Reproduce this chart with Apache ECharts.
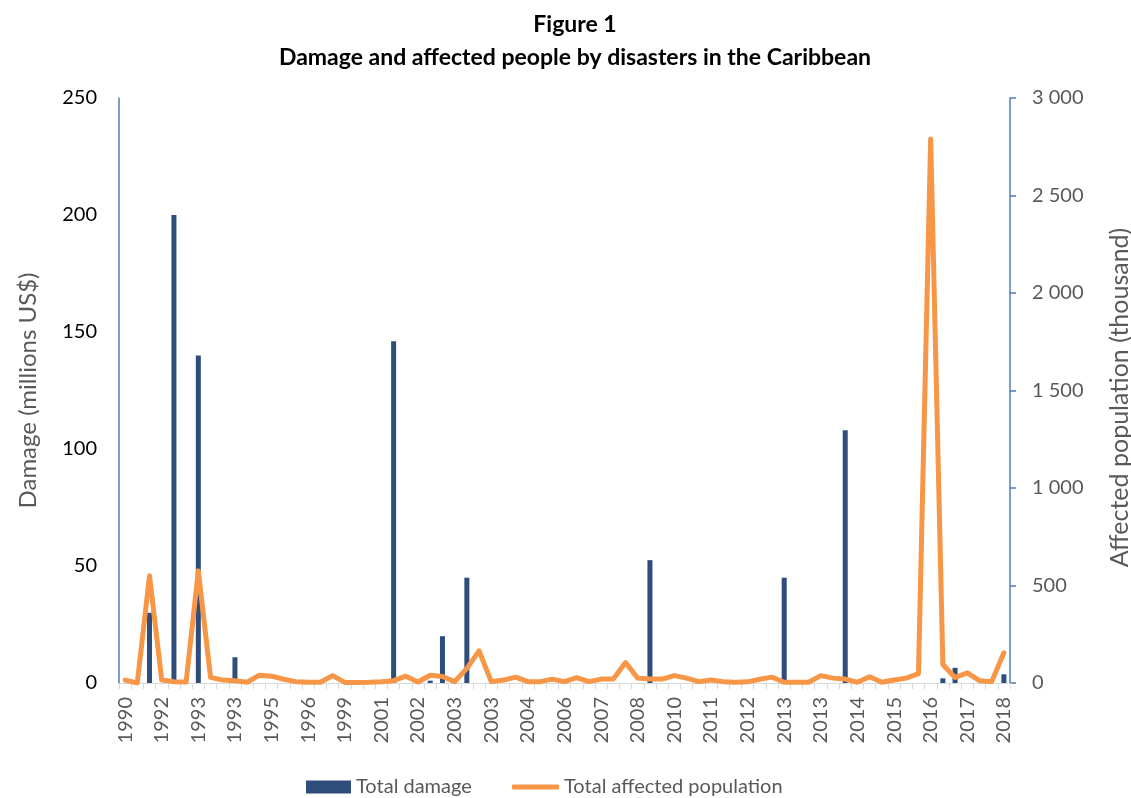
<!DOCTYPE html>
<html>
<head>
<meta charset="utf-8">
<script src="https://cdn.jsdelivr.net/npm/echarts@6/dist/echarts.min.js"></script>
<style>
html,body{margin:0;padding:0;background:#fff;}
#chart{width:1131px;height:798px;}
</style>
</head>
<body>
<div id="chart"></div>
<script>
var categories = [
  '1990','1990','1991','1992','1992','1993','1993','1993','1993','1993',
  '1994','1994','1995','1995','1996','1996','1997','1998','1999','2000',
  '2000','2001','2001','2002','2002','2002','2003','2003','2003','2003',
  '2003','2004','2004','2004','2005','2005','2006','2006','2007','2007',
  '2007','2008','2008','2008','2009','2010','2010','2011','2011','2011',
  '2012','2012','2012','2013','2013','2013','2013','2013','2014','2014',
  '2014','2014','2015','2015','2015','2016','2016','2016','2017','2017',
  '2017','2018','2018'
];
var totalDamage = [
  0,0,30,0,200,0,140,0,0,11,
  0,0,0,0,0,0,0,0,0,0,
  0,0,146,0,0,1,20,0,45,0,
  0,0,0,0,0,0,0,0,0,0,
  0,0,0,52.5,0,0,0,0,0,0,
  0,0,0,0,45,0,0,0,0,108,
  0,0,0,0,0,0,0,2,6.5,0,
  0,0,3.7
];
var totalAffected = [
  15,0,550,15,7,5,575,29,15,12,
  4,40,35,19,7,4,4,38,3,3,
  4,7,12,35,5,40,33,7,75,165,
  7,15,30,7,7,20,7,28,7,20,
  20,105,25,20,20,38,25,7,15,7,
  4,6,19,30,4,4,4,38,25,20,
  4,32,4,15,25,48,2790,95,28,52,
  12,7,155
];
var leftTicks = [0, 50, 100, 150, 200, 250];
var rightTicks = [0, 500, 1000, 1500, 2000, 2500, 3000];

var FONT = 'Lato, "Open Sans", sans-serif';
var chart = echarts.init(document.getElementById('chart'));
chart.setOption({
  animation: false,
  backgroundColor: '#ffffff',
  title: {
    text: 'Figure 1\nDamage and affected people by disasters in the Caribbean',
    left: 570,
    top: 3,
    textAlign: 'center',
    textStyle: {fontFamily: FONT, fontWeight: 'bold', fontSize: 23, color: '#000', lineHeight: 33}
  },
  legend: [
    {
      left: 301,
      top: 772,
      itemWidth: 45,
      itemHeight: 13,
      itemGap: 5,
      textStyle: {fontFamily: FONT, fontSize: 20, color: '#595959', lineHeight: 20},
      data: [{name: 'Total damage', icon: 'rect'}]
    },
    {
      left: 507,
      top: 772,
      itemWidth: 47,
      itemHeight: 5,
      itemGap: 5,
      textStyle: {fontFamily: FONT, fontSize: 20, color: '#595959', lineHeight: 20},
      data: [{name: 'Total affected population', icon: 'roundRect'}],
      itemStyle: {color: '#f79646'}
    }
  ],
  grid: {left: 119, right: 121, top: 98, bottom: 115, containLabel: false, outerBoundsMode: 'none'},
  xAxis: {
    type: 'category',
    data: categories,
    boundaryGap: true,
    axisLine: {show: true, lineStyle: {color: '#d9d9d9', width: 1}},
    axisTick: {show: true, interval: 0, length: 6, lineStyle: {color: '#d9d9d9', width: 1}},
    axisLabel: {interval: 2, rotate: 90, margin: 14, fontFamily: FONT, fontSize: 20, color: '#595959'}
  },
  yAxis: [
    {
      type: 'value', min: leftTicks[0], max: leftTicks[leftTicks.length - 1], interval: 50,
      position: 'left',
      name: 'Damage (millions US$)', nameLocation: 'middle', nameRotate: 90, nameGap: 79,
      nameTextStyle: {fontFamily: FONT, fontSize: 24, color: '#595959'},
      axisLine: {show: true, lineStyle: {color: '#4a7ebb', width: 1.5}},
      axisTick: {show: false},
      splitLine: {show: false},
      axisLabel: {margin: 22, fontFamily: FONT, fontSize: 20, color: '#000'}
    },
    {
      type: 'value', min: rightTicks[0], max: rightTicks[rightTicks.length - 1], interval: 500,
      position: 'right',
      name: 'Affected population (thousand)', nameLocation: 'middle', nameRotate: 90, nameGap: 97,
      nameTextStyle: {fontFamily: FONT, fontSize: 25, color: '#595959', padding: [0, 14, 0, 0]},
      axisLine: {show: true, lineStyle: {color: '#4a7ebb', width: 1.5}},
      axisTick: {show: true, inside: false, length: 6, lineStyle: {color: '#4a7ebb', width: 1.5}},
      splitLine: {show: false},
      axisLabel: {
        margin: 22, fontFamily: FONT, fontSize: 20, color: '#595959',
        formatter: function (v) { return String(v).replace(/\B(?=(\d{3})+(?!\d))/g, ' '); }
      }
    }
  ],
  series: [
    {
      name: 'Total damage',
      type: 'bar',
      yAxisIndex: 0,
      data: totalDamage,
      barWidth: 5,
      itemStyle: {color: '#2e4d7b'}
    },
    {
      name: 'Total affected population',
      type: 'line',
      yAxisIndex: 1,
      data: totalAffected,
      symbol: 'none',
      lineStyle: {color: '#f79646', width: 5, cap: 'round', join: 'round'},
      itemStyle: {color: '#f79646'},
      z: 3
    }
  ]
});
</script>
</body>
</html>
